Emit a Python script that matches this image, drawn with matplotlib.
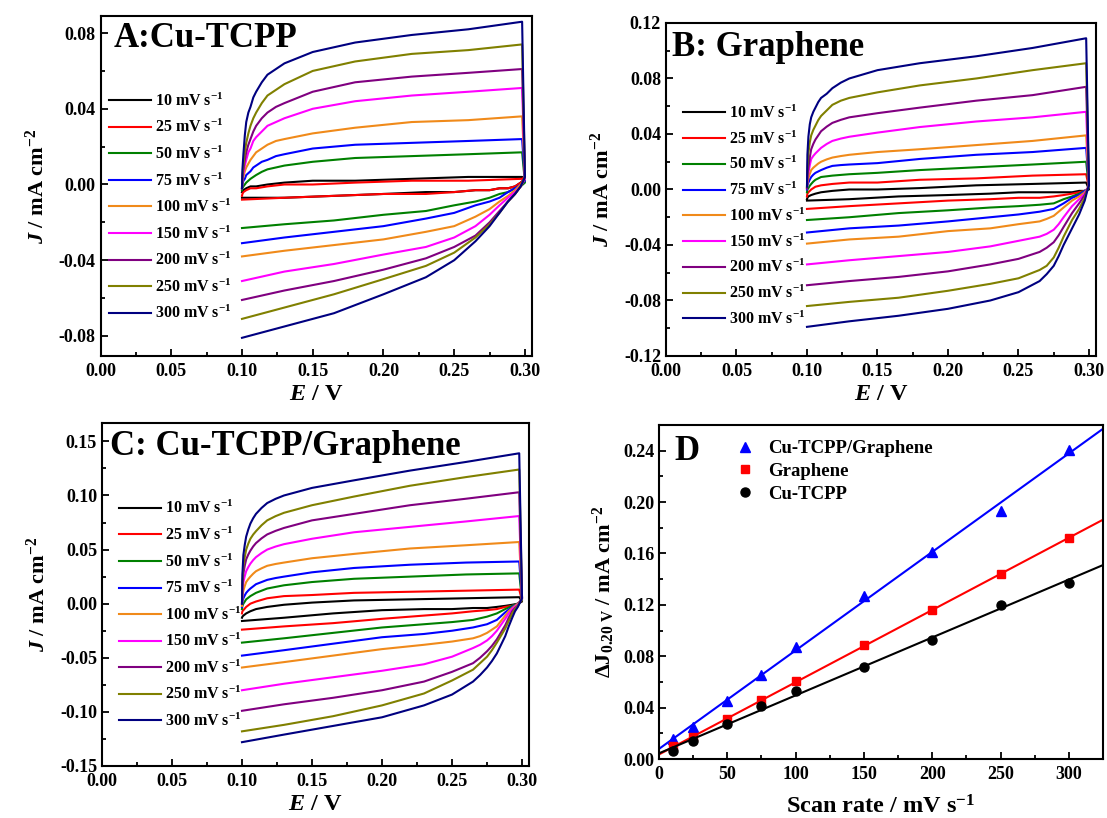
import numpy as np
import matplotlib
matplotlib.use("Agg")
import matplotlib.pyplot as plt
from matplotlib.ticker import MultipleLocator, FormatStrFormatter

plt.rcParams["font.family"] = ["Liberation Serif", "DejaVu Serif"]
plt.rcParams["font.weight"] = "bold"
plt.rcParams["axes.labelweight"] = "bold"
plt.rcParams["mathtext.fontset"] = "custom"
plt.rcParams["mathtext.rm"] = "Liberation Serif:bold"
plt.rcParams["mathtext.it"] = "Liberation Serif:italic:bold"
plt.rcParams["mathtext.bf"] = "Liberation Serif:bold"

# scan rates and line colours (Origin palette)
rates = [10, 25, 50, 75, 100, 150, 200, 250, 300]
colors = ["#000000", "#FF0000", "#008000", "#0000FF", "#F08A1A",
          "#FF00FF", "#800080", "#808000", "#000080"]

# potential grids for the forward (anodic) and backward (cathodic) sweeps, V
E_fwd = [0.100, 0.1003, 0.101, 0.102, 0.103, 0.1045, 0.106, 0.108, 0.110,
         0.114, 0.118, 0.124, 0.130, 0.150, 0.180, 0.220, 0.260, 0.298]
E_back = [0.300, 0.2985, 0.297, 0.295, 0.293, 0.2905, 0.288, 0.285, 0.282, 0.2785,
          0.275, 0.270, 0.265, 0.250, 0.230, 0.200, 0.165, 0.130, 0.100]

# ---- A: Cu-TCPP, current density in mA cm-2, one row per scan rate ----
A_fwd = [
    [-0.004, -0.0035, -0.003, -0.0025, -0.002, -0.0015, -0.001, -0.001, -0.001, -0.0005, 0.000, 0.0005, 0.001, 0.002, 0.002, 0.003, 0.004, 0.004],
    [-0.006, -0.005, -0.004, -0.0035, -0.003, -0.0025, -0.002, -0.002, -0.002, -0.0015, -0.001, -0.0005, 0.000, 0.000, 0.001, 0.002, 0.002, 0.003],
    [-0.003, -0.002, -0.001, 0.000, 0.001, 0.002, 0.003, 0.004, 0.005, 0.0067, 0.008, 0.009, 0.010, 0.012, 0.014, 0.015, 0.016, 0.017],
    [-0.002, 0.000, 0.002, 0.003, 0.005, 0.006, 0.007, 0.009, 0.010, 0.012, 0.013, 0.015, 0.016, 0.019, 0.021, 0.022, 0.023, 0.024],
    [-0.001, 0.002, 0.004, 0.007, 0.009, 0.011, 0.013, 0.015, 0.017, 0.019, 0.021, 0.023, 0.024, 0.027, 0.030, 0.033, 0.034, 0.036],
    [-0.002, 0.003, 0.006, 0.010, 0.013, 0.017, 0.019, 0.023, 0.025, 0.028, 0.031, 0.033, 0.035, 0.040, 0.044, 0.047, 0.049, 0.051],
    [-0.002, 0.004, 0.008, 0.013, 0.017, 0.021, 0.024, 0.028, 0.031, 0.035, 0.038, 0.041, 0.043, 0.049, 0.054, 0.057, 0.059, 0.061],
    [-0.002, 0.005, 0.010, 0.017, 0.022, 0.027, 0.031, 0.035, 0.038, 0.043, 0.047, 0.050, 0.053, 0.060, 0.065, 0.069, 0.071, 0.074],
    [-0.002, 0.008, 0.016, 0.026, 0.033, 0.038, 0.041, 0.046, 0.049, 0.054, 0.058, 0.061, 0.064, 0.070, 0.075, 0.079, 0.082, 0.086],
]
A_back = [
    [0.003, 0.002, 0.001, 0.000, -0.001, -0.0015, -0.002, -0.002, -0.002, -0.0025, -0.003, -0.003, -0.003, -0.004, -0.004, -0.005, -0.006, -0.007, -0.007],
    [0.004, 0.002, 0.001, 0.000, -0.001, -0.0015, -0.002, -0.002, -0.002, -0.0025, -0.003, -0.003, -0.003, -0.004, -0.005, -0.005, -0.006, -0.007, -0.008],
    [0.001, 0.000, -0.001, -0.0015, -0.002, -0.003, -0.004, -0.0045, -0.005, -0.006, -0.007, -0.008, -0.009, -0.011, -0.014, -0.016, -0.019, -0.021, -0.023],
    [0.002, 0.001, 0.000, -0.001, -0.002, -0.003, -0.004, -0.0055, -0.007, -0.008, -0.009, -0.010, -0.011, -0.015, -0.018, -0.022, -0.025, -0.028, -0.031],
    [0.003, 0.0015, 0.000, -0.0015, -0.003, -0.0045, -0.006, -0.0075, -0.009, -0.011, -0.013, -0.015, -0.017, -0.022, -0.025, -0.029, -0.032, -0.035, -0.038],
    [0.003, 0.001, -0.001, -0.0025, -0.004, -0.0055, -0.007, -0.009, -0.011, -0.0135, -0.016, -0.019, -0.022, -0.028, -0.033, -0.037, -0.042, -0.046, -0.051],
    [0.004, 0.0015, -0.001, -0.003, -0.005, -0.007, -0.009, -0.0115, -0.014, -0.017, -0.020, -0.0235, -0.027, -0.033, -0.039, -0.045, -0.051, -0.056, -0.061],
    [0.004, 0.0015, -0.001, -0.003, -0.005, -0.007, -0.009, -0.012, -0.015, -0.018, -0.021, -0.0245, -0.028, -0.036, -0.043, -0.050, -0.058, -0.065, -0.071],
    [0.004, 0.0015, -0.001, -0.003, -0.005, -0.007, -0.009, -0.012, -0.015, -0.0185, -0.022, -0.026, -0.030, -0.040, -0.049, -0.058, -0.068, -0.075, -0.081],
]

# ---- B: Graphene ----
B_fwd = [
    [-0.007, -0.006, -0.005, -0.0045, -0.004, -0.0035, -0.003, -0.0025, -0.002, -0.0015, -0.001, -0.0005, 0.000, 0.000, 0.001, 0.003, 0.004, 0.005],
    [-0.005, -0.003, -0.002, -0.001, 0.000, 0.001, 0.002, 0.0025, 0.003, 0.0035, 0.004, 0.0045, 0.005, 0.005, 0.007, 0.008, 0.010, 0.011],
    [-0.002, 0.000, 0.001, 0.0027, 0.004, 0.0057, 0.007, 0.008, 0.009, 0.0095, 0.010, 0.0105, 0.011, 0.012, 0.014, 0.016, 0.018, 0.020],
    [0.000, 0.003, 0.005, 0.0072, 0.009, 0.0107, 0.012, 0.013, 0.014, 0.0157, 0.017, 0.0176, 0.018, 0.019, 0.022, 0.025, 0.027, 0.030],
    [0.001, 0.005, 0.008, 0.0113, 0.014, 0.0157, 0.017, 0.0187, 0.020, 0.0217, 0.023, 0.0241, 0.025, 0.027, 0.029, 0.032, 0.035, 0.039],
    [0.001, 0.008, 0.012, 0.0175, 0.022, 0.0242, 0.026, 0.028, 0.030, 0.0328, 0.035, 0.0367, 0.038, 0.041, 0.045, 0.049, 0.052, 0.056],
    [0.001, 0.010, 0.016, 0.0232, 0.029, 0.0329, 0.036, 0.039, 0.042, 0.0453, 0.048, 0.0502, 0.052, 0.055, 0.059, 0.064, 0.068, 0.074],
    [0.002, 0.015, 0.026, 0.034, 0.039, 0.043, 0.046, 0.050, 0.053, 0.057, 0.061, 0.064, 0.066, 0.070, 0.075, 0.080, 0.086, 0.091],
    [0.002, 0.025, 0.038, 0.047, 0.052, 0.056, 0.059, 0.063, 0.066, 0.069, 0.073, 0.077, 0.080, 0.086, 0.091, 0.096, 0.102, 0.109],
]
B_back = [
    [0.000, -0.0005, -0.001, -0.001, -0.001, -0.0015, -0.002, -0.002, -0.002, -0.002, -0.002, -0.002, -0.002, -0.002, -0.003, -0.004, -0.005, -0.007, -0.008],
    [0.001, 0.000, -0.001, -0.0015, -0.002, -0.0025, -0.003, -0.0035, -0.004, -0.0045, -0.005, -0.0055, -0.006, -0.006, -0.007, -0.008, -0.010, -0.012, -0.014],
    [0.001, 0.000, -0.001, -0.002, -0.003, -0.004, -0.005, -0.006, -0.007, -0.0085, -0.010, -0.0105, -0.011, -0.012, -0.013, -0.015, -0.017, -0.020, -0.022],
    [0.002, 0.000, -0.001, -0.0025, -0.004, -0.005, -0.006, -0.008, -0.010, -0.012, -0.014, -0.015, -0.016, -0.018, -0.020, -0.023, -0.026, -0.028, -0.031],
    [0.002, 0.000, -0.002, -0.0035, -0.005, -0.0065, -0.008, -0.0105, -0.013, -0.016, -0.019, -0.0212, -0.023, -0.025, -0.028, -0.030, -0.034, -0.036, -0.039],
    [0.003, 0.000, -0.003, -0.005, -0.007, -0.0095, -0.012, -0.016, -0.020, -0.025, -0.029, -0.032, -0.034, -0.037, -0.041, -0.045, -0.048, -0.051, -0.054],
    [0.003, -0.0005, -0.004, -0.007, -0.010, -0.0135, -0.017, -0.022, -0.027, -0.033, -0.038, -0.042, -0.045, -0.050, -0.054, -0.059, -0.063, -0.066, -0.069],
    [0.003, -0.001, -0.006, -0.010, -0.014, -0.018, -0.022, -0.028, -0.034, -0.042, -0.049, -0.055, -0.058, -0.064, -0.068, -0.073, -0.078, -0.081, -0.084],
    [0.003, -0.002, -0.008, -0.013, -0.018, -0.023, -0.028, -0.034, -0.040, -0.048, -0.055, -0.061, -0.066, -0.074, -0.080, -0.086, -0.091, -0.095, -0.099],
]

# ---- C: Cu-TCPP/Graphene ----
C_fwd = [
    [-0.013, -0.012, -0.011, -0.010, -0.009, -0.008, -0.007, -0.006, -0.005, -0.004, -0.003, -0.002, -0.001, 0.001, 0.003, 0.004, 0.005, 0.006],
    [-0.009, -0.007, -0.006, -0.0045, -0.003, -0.0015, 0.000, 0.001, 0.002, 0.0035, 0.005, 0.006, 0.007, 0.008, 0.010, 0.011, 0.012, 0.013],
    [-0.005, -0.002, 0.000, 0.002, 0.004, 0.0055, 0.007, 0.0085, 0.010, 0.012, 0.014, 0.0155, 0.017, 0.020, 0.023, 0.025, 0.027, 0.028],
    [-0.003, 0.002, 0.005, 0.0077, 0.010, 0.0122, 0.014, 0.016, 0.018, 0.020, 0.022, 0.0237, 0.025, 0.029, 0.033, 0.036, 0.038, 0.039],
    [-0.002, 0.007, 0.012, 0.0164, 0.020, 0.0227, 0.025, 0.0277, 0.030, 0.0327, 0.035, 0.0367, 0.038, 0.042, 0.046, 0.051, 0.054, 0.057],
    [0.000, 0.012, 0.020, 0.0255, 0.030, 0.0338, 0.037, 0.0403, 0.043, 0.0468, 0.050, 0.0528, 0.055, 0.060, 0.066, 0.071, 0.076, 0.081],
    [0.000, 0.017, 0.028, 0.0352, 0.041, 0.0454, 0.049, 0.0529, 0.056, 0.0604, 0.064, 0.0673, 0.070, 0.077, 0.083, 0.091, 0.097, 0.103],
    [0.000, 0.021, 0.035, 0.0433, 0.050, 0.0555, 0.060, 0.0639, 0.067, 0.0725, 0.077, 0.0809, 0.084, 0.091, 0.099, 0.109, 0.117, 0.124],
    [0.000, 0.027, 0.045, 0.0545, 0.062, 0.0686, 0.074, 0.079, 0.083, 0.0885, 0.093, 0.0969, 0.100, 0.107, 0.114, 0.123, 0.131, 0.139],
]
C_back = [
    [0.002, 0.001, 0.000, -0.0005, -0.001, -0.0015, -0.002, -0.0025, -0.003, -0.0035, -0.004, -0.004, -0.004, -0.005, -0.005, -0.006, -0.009, -0.013, -0.016],
    [0.003, 0.0015, 0.000, -0.001, -0.002, -0.0025, -0.003, -0.004, -0.005, -0.0055, -0.006, -0.0065, -0.007, -0.009, -0.011, -0.014, -0.018, -0.021, -0.024],
    [0.003, 0.0015, 0.000, -0.001, -0.002, -0.0035, -0.005, -0.007, -0.009, -0.0105, -0.012, -0.0135, -0.015, -0.017, -0.019, -0.022, -0.027, -0.032, -0.036],
    [0.004, 0.002, 0.000, -0.0015, -0.003, -0.0055, -0.008, -0.0115, -0.015, -0.017, -0.019, -0.0205, -0.022, -0.025, -0.028, -0.031, -0.037, -0.043, -0.048],
    [0.004, 0.002, 0.000, -0.002, -0.004, -0.007, -0.011, -0.016, -0.021, -0.024, -0.027, -0.030, -0.032, -0.035, -0.038, -0.042, -0.048, -0.054, -0.059],
    [0.005, 0.002, -0.001, -0.003, -0.005, -0.009, -0.014, -0.0195, -0.025, -0.030, -0.034, -0.038, -0.041, -0.049, -0.056, -0.062, -0.068, -0.074, -0.080],
    [0.005, 0.0015, -0.002, -0.004, -0.007, -0.013, -0.020, -0.0265, -0.033, -0.039, -0.044, -0.050, -0.055, -0.063, -0.072, -0.080, -0.087, -0.093, -0.099],
    [0.005, 0.0015, -0.002, -0.005, -0.009, -0.016, -0.023, -0.0295, -0.036, -0.043, -0.049, -0.055, -0.061, -0.071, -0.083, -0.094, -0.104, -0.112, -0.118],
    [0.005, 0.001, -0.003, -0.007, -0.013, -0.021, -0.030, -0.038, -0.046, -0.053, -0.059, -0.066, -0.072, -0.084, -0.094, -0.105, -0.113, -0.121, -0.128],
]

# ---- D: current density difference at 0.20 V vs scan rate ----
scan_rate = [10, 25, 50, 75, 100, 150, 200, 250, 300]
dJ_hybrid = [0.0156, 0.0246, 0.0454, 0.0656, 0.0871, 0.1270, 0.1615, 0.1930, 0.2406]
dJ_graphene = [0.0098, 0.0168, 0.0311, 0.0456, 0.0604, 0.0886, 0.1160, 0.1440, 0.1720]
dJ_cutcpp = [0.0060, 0.0143, 0.0275, 0.0410, 0.0526, 0.0720, 0.0923, 0.1200, 0.1374]

fig = plt.figure(figsize=(11.07, 8.18), dpi=100)
axA = fig.add_axes([0.0908, 0.5648, 0.3898, 0.4156])
axB = fig.add_axes([0.6016, 0.5648, 0.3885, 0.4071])
axC = fig.add_axes([0.0921, 0.0636, 0.3858, 0.4193])
axD = fig.add_axes([0.5953, 0.0721, 0.4011, 0.4083])

tick_fs = 13


def style_axes(ax):
    for s in ax.spines.values():
        s.set_linewidth(1.5)
    ax.tick_params(which="both", direction="in", top=False, right=False,
                   labelsize=tick_fs, width=1.3)
    ax.tick_params(which="major", length=5)
    ax.tick_params(which="minor", length=3)
    ax.tick_params(axis="x", which="major", pad=5)
    for lab in ax.get_xticklabels() + ax.get_yticklabels():
        lab.set_fontweight("bold")


def cv_panel(ax, fwd, back, ylim, ymaj, title, leg_anchor, title_xy, spacing):
    for r, c, f, b in zip(rates, colors, fwd, back):
        ax.plot(E_fwd + E_back, f + b, color=c, lw=1.5,
                label=f"{r} mV s$^{{-1}}$")
    ax.set_xlim(0, 0.305)
    ax.set_ylim(*ylim)
    ax.xaxis.set_major_locator(MultipleLocator(0.05))
    ax.xaxis.set_minor_locator(MultipleLocator(0.025))
    ax.yaxis.set_major_locator(MultipleLocator(ymaj))
    ax.yaxis.set_minor_locator(MultipleLocator(ymaj / 2))
    ax.xaxis.set_major_formatter(FormatStrFormatter("%.2f"))
    ax.yaxis.set_major_formatter(FormatStrFormatter("%.2f"))
    ax.set_xlabel(r"$\mathit{E}$ / V", fontsize=17.5, labelpad=3)
    ax.set_ylabel(r"$\mathit{J}$ / mA cm$^{-2}$", fontsize=16, labelpad=7)
    ax.text(title_xy[0], title_xy[1], title, transform=ax.transAxes,
            fontsize=25, fontweight="bold", va="center", ha="left")
    ax.legend(loc="upper left", bbox_to_anchor=leg_anchor, frameon=False,
              fontsize=11.5, handlelength=2.6, handletextpad=0.3,
              labelspacing=spacing, borderaxespad=0, borderpad=0)
    style_axes(ax)


cv_panel(axA, A_fwd, A_back, (-0.0906, 0.089), 0.04, "A:Cu-TCPP",
         (0.02, 0.775), (0.03, 0.935), 0.58)
cv_panel(axB, B_fwd, B_back, (-0.12, 0.12), 0.04, "B: Graphene",
         (0.04, 0.755), (0.015, 0.925), 0.53)
cv_panel(axC, C_fwd, C_back, (-0.15, 0.167), 0.05, "C: Cu-TCPP/Graphene",
         (0.04, 0.775), (0.02, 0.93), 0.58)

# D: markers plus least-squares lines
series = [
    ("Cu-TCPP/Graphene", dJ_hybrid, "#0000FF", "^", 7.5),
    ("Graphene", dJ_graphene, "#FF0000", "s", 6),
    ("Cu-TCPP", dJ_cutcpp, "#000000", "o", 6.5),
]
xfit = np.array([0, 325])
for name, y, c, m, ms in series:
    k, b0 = np.polyfit(scan_rate, y, 1)
    axD.plot(xfit, k * xfit + b0, color=c, lw=1.5)
    axD.plot(scan_rate, y, ls="none", marker=m, color=c, ms=ms, label=name)
axD.set_xlim(0, 325)
axD.set_ylim(0, 0.26)
axD.xaxis.set_major_locator(MultipleLocator(50))
axD.xaxis.set_minor_locator(MultipleLocator(25))
axD.yaxis.set_major_locator(MultipleLocator(0.04))
axD.yaxis.set_minor_locator(MultipleLocator(0.02))
axD.yaxis.set_major_formatter(FormatStrFormatter("%.2f"))
axD.set_xlabel(r"Scan rate / mV s$^{-1}$", fontsize=17.5, labelpad=9)
axD.set_ylabel(r"ΔJ$_{0.20\ \mathrm{V}}$ / mA cm$^{-2}$", fontsize=16, labelpad=4)
axD.text(0.035, 0.92, "D", transform=axD.transAxes, fontsize=25,
         fontweight="bold", va="center", ha="left")
axD.legend(loc="upper left", bbox_to_anchor=(0.169, 0.955), frameon=False,
           fontsize=13.5, handlelength=1.2, handletextpad=0.6,
           labelspacing=0.3, borderaxespad=0, borderpad=0)
style_axes(axD)

fig.savefig("out.png", dpi=100)
